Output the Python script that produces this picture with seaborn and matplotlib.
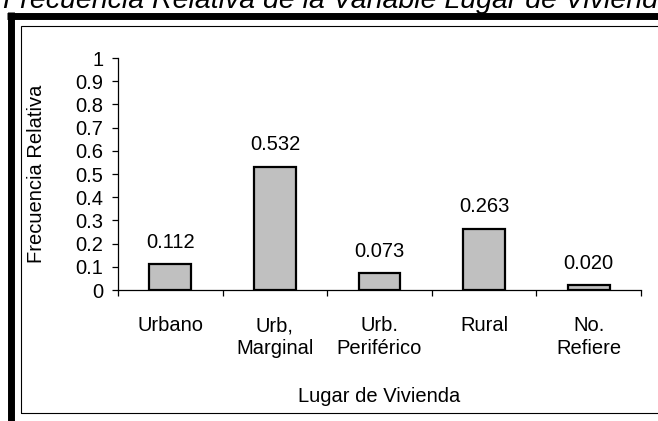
import matplotlib
matplotlib.use("Agg")
import matplotlib.pyplot as plt
from matplotlib.lines import Line2D
from matplotlib.patches import Rectangle
from matplotlib.ticker import FuncFormatter, FixedLocator
import seaborn as sns
import pandas as pd

# ---- data ----
categories = ["Urbano", "Urb,\nMarginal", "Urb.\nPeriférico", "Rural", "No.\nRefiere"]
frecuencia_relativa = [0.112, 0.532, 0.073, 0.263, 0.020]
y_ticks = [0, 0.1, 0.2, 0.3, 0.4, 0.5, 0.6, 0.7, 0.8, 0.9, 1]
title_text = "Frecuencia Relativa de la Variable Lugar de Vivienda"
x_label = "Lugar de Vivienda"
y_label = "Frecuencia Relativa"

df = pd.DataFrame({"lugar": categories, "frec": frecuencia_relativa})

sns.set_style("ticks")
plt.rcParams["font.family"] = ["Liberation Sans", "DejaVu Sans"]

W, H = 658, 421
fig = plt.figure(figsize=(W / 100, H / 100), dpi=100)
fig.patch.set_facecolor("white")

def fx(px):
    return px / W

def fy(py):
    return 1 - py / H

ax_left, ax_right, ax_top, ax_bottom = 118, 641, 58, 290
ax = fig.add_axes([fx(ax_left), fy(ax_bottom), fx(ax_right - ax_left), (ax_bottom - ax_top) / H])
ax.set_facecolor("white")

sns.barplot(data=df, x="lugar", y="frec", ax=ax, color="#C0C0C0", saturation=1,
            width=0.4, edgecolor="black", linewidth=1.6)

FS = 14.5
ax.set_xlim(-0.5, len(categories) - 0.5)
ax.set_ylim(0, 1)
ax.yaxis.set_major_locator(FixedLocator(y_ticks))
ax.yaxis.set_major_formatter(FuncFormatter(lambda v, p: f"{v:g}"))
ax.tick_params(axis="y", direction="out", length=4.5, width=0.9, pad=6,
               labelsize=FS, color="black", labelcolor="black")
ax.tick_params(axis="x", which="major", length=0, pad=19, labelsize=FS, labelcolor="black")
ax.set_xticks([i - 0.5 for i in range(len(categories) + 1)], minor=True)
ax.tick_params(axis="x", which="minor", direction="out", length=4.5, width=0.9, color="black")
for lab in ax.get_xticklabels():
    lab.set_linespacing(1.25)

for s in ["top", "right"]:
    ax.spines[s].set_visible(False)
for s in ["left", "bottom"]:
    ax.spines[s].set_color("black")
    ax.spines[s].set_linewidth(0.9)

ax.bar_label(ax.containers[0], fmt="%.3f", padding=9, fontsize=FS, color="black")

ax.set_xlabel(x_label, fontsize=FS, color="black")
ax.xaxis.set_label_coords(0.5, (ax_bottom - 387) / (ax_bottom - ax_top))
ax.set_ylabel(y_label, fontsize=FS, color="black")
ax.yaxis.set_label_coords((46 - ax_left) / (ax_right - ax_left), 0.5)

# frames
fig.add_artist(Line2D([fx(10.5), fx(10.5)], [fy(12), fy(H + 5)], color="black",
                      linewidth=5.0, transform=fig.transFigure, solid_capstyle="butt"))
fig.add_artist(Line2D([fx(7), fx(W + 5)], [fy(15.5), fy(15.5)], color="black",
                      linewidth=5.0, transform=fig.transFigure, solid_capstyle="butt"))
fig.add_artist(Rectangle((fx(21), fy(413)), fx(W + 10 - 21), (413 - 26) / H,
                         transform=fig.transFigure, fill=False, edgecolor="black",
                         linewidth=0.8))

fig.text(fx(3), fy(8), title_text, fontsize=20.5, style="italic", color="black",
         ha="left", va="baseline")

fig.savefig("out.png", dpi=100)
